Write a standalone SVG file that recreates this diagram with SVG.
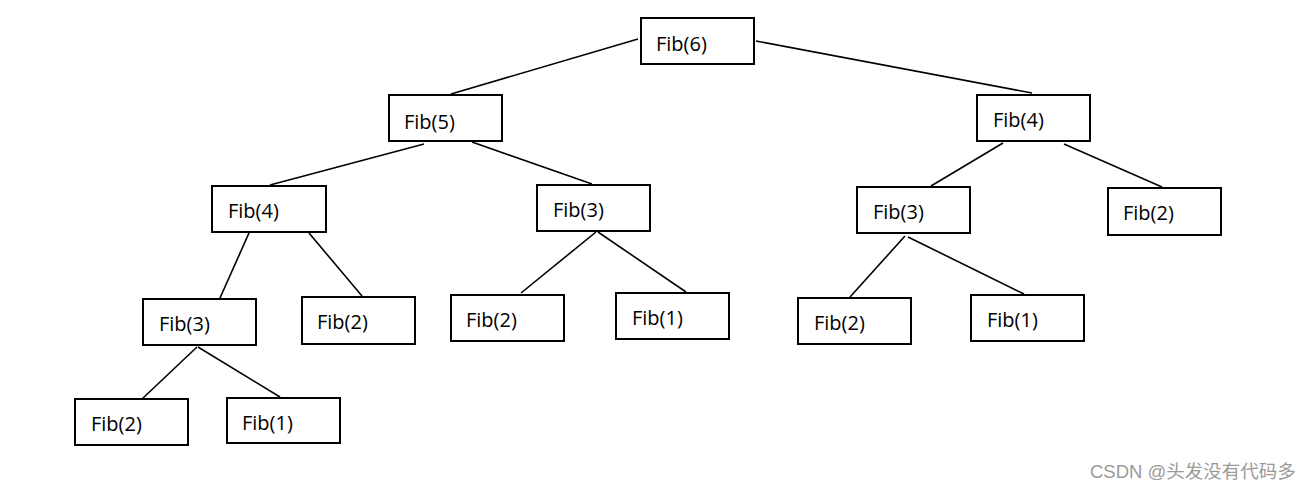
<svg xmlns="http://www.w3.org/2000/svg" width="1315" height="491" viewBox="0 0 1315 491">
<style>
.box{fill:#fff;stroke:#000;stroke-width:2}
.lbl{font-family:"Open Sans","Liberation Sans",sans-serif;font-size:20px;fill:#000}
.edge{stroke:#000;stroke-width:1.6;fill:none}
.wm{font-family:"Liberation Sans","Noto Sans CJK SC",sans-serif;font-size:18.5px;fill:#9a9a9a}
</style>
<rect width="1315" height="491" fill="#fff"/>
<g id="connectors">
<line class="edge" x1="638" y1="39" x2="451" y2="94"/>
<line class="edge" x1="756" y1="41" x2="1032" y2="93"/>
<line class="edge" x1="424" y1="144" x2="270" y2="185"/>
<line class="edge" x1="472" y1="142" x2="592" y2="184"/>
<line class="edge" x1="1003" y1="143" x2="931" y2="186"/>
<line class="edge" x1="1064" y1="144" x2="1162" y2="187"/>
<line class="edge" x1="249" y1="233" x2="220" y2="298"/>
<line class="edge" x1="309" y1="233" x2="362" y2="296"/>
<line class="edge" x1="596" y1="232" x2="521" y2="293"/>
<line class="edge" x1="598" y1="232" x2="686" y2="292"/>
<line class="edge" x1="905" y1="236" x2="850" y2="297"/>
<line class="edge" x1="908" y1="237" x2="1024" y2="294"/>
<line class="edge" x1="197" y1="347" x2="142" y2="399"/>
<line class="edge" x1="198" y1="347" x2="280" y2="397"/>
</g>
<g id="fib6"><rect class="box" x="641" y="18" width="113" height="46"/><text class="lbl" x="656" y="51">Fib(6)</text></g>
<g id="fib5"><rect class="box" x="389" y="95" width="113" height="46"/><text class="lbl" x="404" y="129">Fib(5)</text></g>
<g id="fib4r"><rect class="box" x="977" y="95" width="113" height="46"/><text class="lbl" x="993" y="127">Fib(4)</text></g>
<g id="fib4l"><rect class="box" x="212" y="186" width="114" height="46"/><text class="lbl" x="228" y="218">Fib(4)</text></g>
<g id="fib3m"><rect class="box" x="537" y="185" width="113" height="46"/><text class="lbl" x="553" y="217">Fib(3)</text></g>
<g id="fib3r"><rect class="box" x="857" y="187" width="113" height="46"/><text class="lbl" x="873" y="219">Fib(3)</text></g>
<g id="fib2rr"><rect class="box" x="1108" y="188" width="113" height="47"/><text class="lbl" x="1123" y="220">Fib(2)</text></g>
<g id="fib3l"><rect class="box" x="143" y="299" width="113" height="46"/><text class="lbl" x="159" y="331">Fib(3)</text></g>
<g id="fib2a"><rect class="box" x="302" y="297" width="113" height="47"/><text class="lbl" x="317" y="329">Fib(2)</text></g>
<g id="fib2b"><rect class="box" x="451" y="295" width="113" height="46"/><text class="lbl" x="466" y="327">Fib(2)</text></g>
<g id="fib1a"><rect class="box" x="616" y="293" width="113" height="46"/><text class="lbl" x="632" y="325">Fib(1)</text></g>
<g id="fib2c"><rect class="box" x="798" y="298" width="113" height="46"/><text class="lbl" x="814" y="330">Fib(2)</text></g>
<g id="fib1b"><rect class="box" x="971" y="295" width="113" height="46"/><text class="lbl" x="987" y="327">Fib(1)</text></g>
<g id="fib2d"><rect class="box" x="75" y="399" width="113" height="46"/><text class="lbl" x="91" y="431">Fib(2)</text></g>
<g id="fib1c"><rect class="box" x="227" y="398" width="113" height="45"/><text class="lbl" x="242" y="430">Fib(1)</text></g>
<text class="wm" x="1090" y="478">CSDN @头发没有代码多</text>
</svg>
